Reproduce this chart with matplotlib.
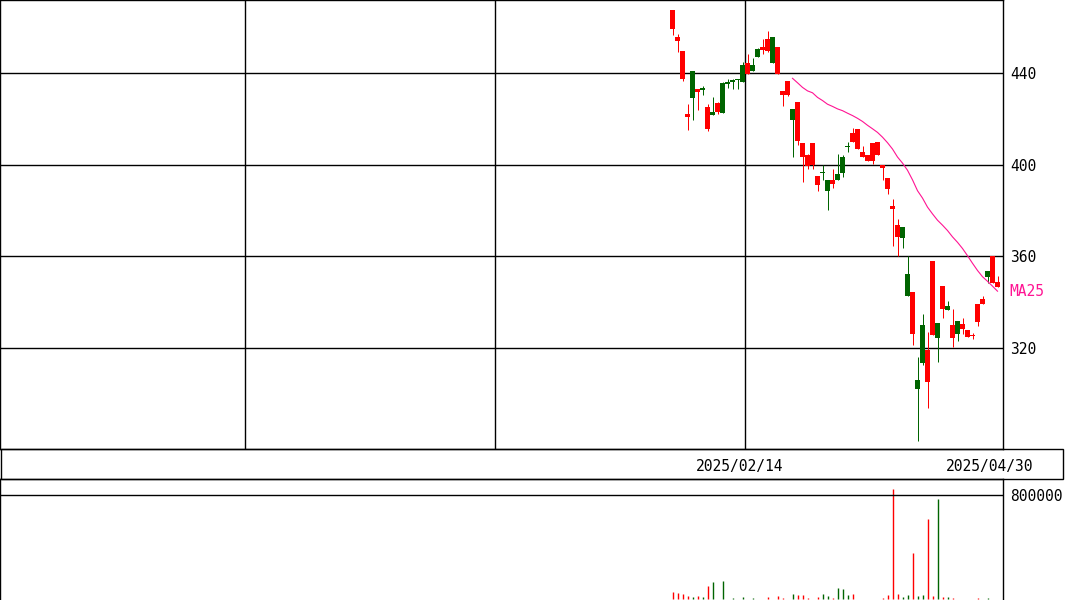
import numpy as np
import pandas as pd
import matplotlib
matplotlib.use('Agg')
from matplotlib import pyplot as plt
from matplotlib.patches import Rectangle
from matplotlib.transforms import blended_transform_factory

# daily OHLC, 66 sessions ending 2025/04/30
opens = [467.5, 455.5, 449.5, 422, 429, 433, 432.5, 425, 421.5, 427, 422.5, 435, 436, 437,
         436, 444.5, 441, 447, 451.5, 455, 444.5, 451.5, 432, 436.5, 419.5, 427.5, 409.5, 404,
         409.5, 395, 396.5, 388.5, 393.5, 393.5, 396.5, 407.5, 414, 415.5, 405.5, 404, 409.5,
         410, 400, 394, 382, 373.5, 368, 342.5, 344.5, 302, 313.5, 319, 358, 324.5, 347, 336.5,
         330, 326, 330.5, 328, 325.5, 339, 341.5, 351, 360, 349]
highs = [467.5, 457, 449.5, 426.5, 441, 433, 434.5, 426.5, 429.5, 427.5, 436, 437.5, 437.5, 437.5,
         445, 448.5, 446.5, 451, 455, 458.5, 455.5, 451.5, 432, 436.5, 424.5, 427.5, 409.5, 404.5,
         409.5, 395, 400, 393.5, 398, 404.5, 404, 410, 416, 415.5, 408, 404, 409.5,
         410, 400, 394, 385, 376.5, 373, 360, 344.5, 316, 335, 327, 358, 331, 347, 340.5,
         337, 332, 333, 328, 326.5, 339, 342.5, 353.5, 360, 351.5]
lows = [456.5, 449, 436.5, 415, 419.5, 424, 430.5, 414.5, 421.5, 422, 422.5, 433.5, 433, 433,
        436, 439.5, 441, 447, 448.5, 449, 444.5, 439.5, 425.5, 430, 403.5, 408.5, 392.5, 398,
        398, 388.5, 393.5, 380, 390, 393.5, 394.5, 405.5, 410, 407, 403.5, 401.5, 400.5,
        404, 393.5, 387, 364.5, 360, 363.5, 342.5, 321.5, 279.5, 312.5, 294, 325.5, 314, 333, 336.5,
        320.5, 323, 326, 325, 324, 329.5, 339, 348.5, 348.5, 346.5]
closes = [459, 454, 437.5, 421, 441, 431.5, 433.5, 415.5, 423, 423, 435.5, 436, 437, 437.5,
          443.5, 439.5, 443.5, 450.5, 450, 449.5, 455.5, 439.5, 430.5, 430.5, 424.5, 410.5, 403.5, 399.5,
          400, 391, 397, 393.5, 391.5, 396, 403.5, 408, 410, 407, 403.5, 401.5, 401.5,
          404, 398.5, 389.5, 380.5, 368.5, 373, 352.5, 326, 306, 330, 305, 325.5, 331, 337, 338.5,
          324.5, 332, 328.5, 325, 325.3, 331.5, 339, 353.5, 348.5, 346.5]
volumes = [54000, 46000, 39000, 23000, 15000, 23000, 15000, 100000, 131000, 3000, 139000, 2000,
           8000, 2000, 15000, 3000, 8000, 2000, 3000, 15000, 2000, 23000, 8000, 4000, 39000,
           31000, 31000, 8000, 3000, 15000, 39000, 23000, 8000, 85000, 77000, 31000, 39000,
           3000, 2000, 2000, 3000, 2000, 8000, 31000, 849000, 39000, 15000, 31000, 355000,
           23000, 31000, 617000, 23000, 772000, 15000, 15000, 8000, 2000, 2000, 3000, 2000,
           8000, 2000, 8000, 3000, 2000]

date_labels = ['2025/02/14', '2025/04/30']
date_index = [15, 65]
price_ticks = [440, 400, 360, 320]
vol_ticks = [800000]

RED = '#ff0000'
GREEN = '#006400'
PINK = '#ff1493'
PX = 0.72  # one pixel in points at dpi 100

df = pd.DataFrame({'open': opens, 'high': highs, 'low': lows, 'close': closes, 'vol': volumes})
df['ma25'] = df['close'].rolling(25).mean()
idx = np.arange(len(df))
cols = np.where(df['close'] < df['open'], RED, GREEN)

plt.rcParams['font.family'] = ['DejaVu Sans Mono']
fig = plt.figure(figsize=(10.65, 6), dpi=100)
W, H = 1065, 600
ax = fig.add_axes([0, 1 - 449 / H, 1003 / W, 449 / H])
axv = fig.add_axes([0, 0, 1003 / W, 121 / H], sharex=ax)

xmin, xmax = -134.5, 66.1

# candles
body_lo = np.minimum(df['open'], df['close'])
body_h = np.maximum(np.abs(df['close'] - df['open']), 0.45)
ax.vlines(idx, df['low'], df['high'], colors=cols, lw=PX, zorder=3)
ax.bar(idx, body_h, bottom=body_lo, width=0.9, color=cols, lw=0, zorder=4)
ax.plot(idx, df['ma25'], color=PINK, lw=0.8, zorder=5)

for y in price_ticks:
    ax.axhline(y, color='black', lw=1.0, zorder=1)
for k in range(3):
    ax.axvline(date_index[0] - 0.5 - 50 * k, color='black', lw=1.0, zorder=1)

ax.set_xlim(xmin, xmax)
ax.set_ylim(275.93, 471.85)
ax.yaxis.tick_right()
ax.set_yticks(price_ticks)
ax.set_yticklabels([str(v) for v in price_ticks])
ax.tick_params(axis='y', length=0, pad=5, labelsize=10.5)
ax.set_xticks([d - 1.6 for d in date_index])
ax.set_xticklabels(date_labels)
ax.tick_params(axis='x', length=0, pad=7, labelsize=10.5)
for s in ax.spines.values():
    s.set_linewidth(1.0)

tr = blended_transform_factory(ax.transAxes, ax.transData)
ax.text(1.006, df['ma25'].iloc[-1], 'MA25', color=PINK, fontsize=10.5,
        va='center', ha='left', transform=tr)

# volume
axv.vlines(idx, 0, df['vol'], colors=cols, lw=1.0)
for v in vol_ticks:
    axv.axhline(v, color='black', lw=1.0)
axv.set_ylim(-5400, 922700)
axv.yaxis.tick_right()
axv.set_yticks(vol_ticks)
axv.set_yticklabels([str(v) for v in vol_ticks])
axv.tick_params(axis='y', length=0, pad=5, labelsize=10.5)
axv.tick_params(axis='x', bottom=False, labelbottom=False)
for s in axv.spines.values():
    s.set_linewidth(1.0)
axv.spines['bottom'].set_visible(False)

# date strip box
fig.add_artist(Rectangle((0.0005, 121 / H), 1063 / W - 0.0005, 30 / H, fill=False,
                         lw=1.0, edgecolor='black', transform=fig.transFigure))

fig.savefig('out.png', dpi=100, facecolor='white')
